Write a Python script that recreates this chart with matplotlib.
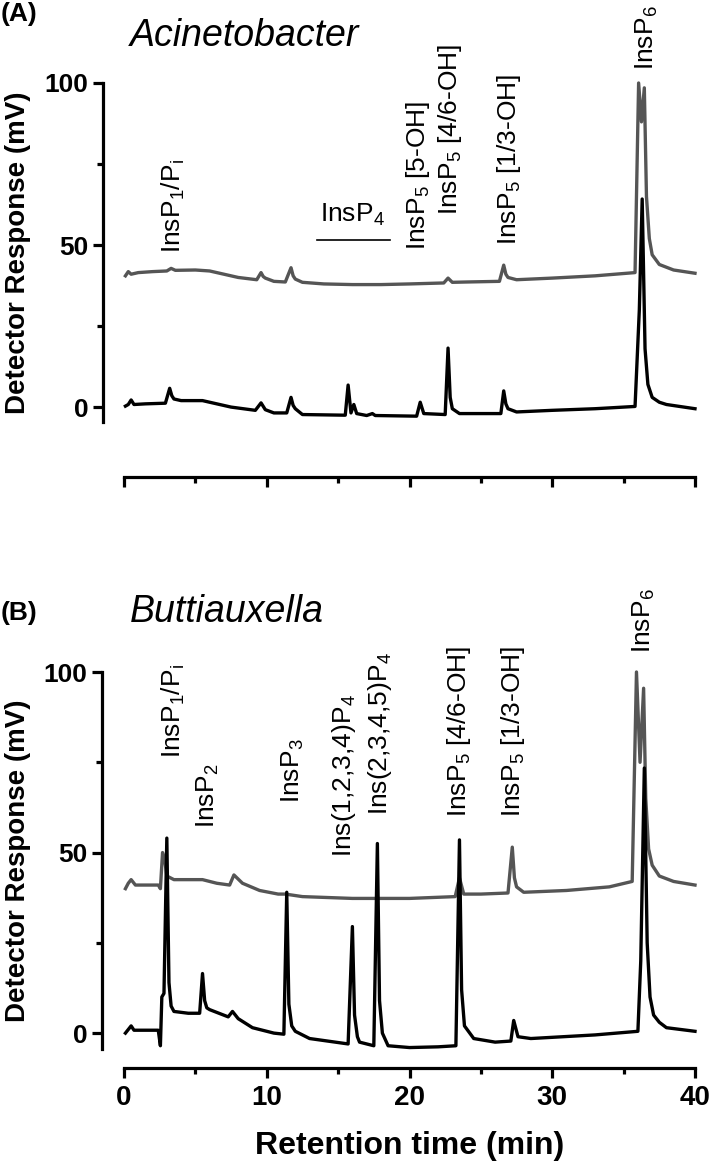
import matplotlib
matplotlib.use("Agg")
import matplotlib.pyplot as plt
from matplotlib.ticker import FixedLocator

plt.rcParams['font.family'] = ['Liberation Sans', 'DejaVu Sans']
plt.rcParams['mathtext.default'] = 'regular'

# ---------------- data (retention time in min, response in mV) ----------------
A_gray_t = [0.1, 0.3, 0.5, 1.0, 2.0, 3.0, 3.3, 3.6, 5.0, 6.0, 7.0, 8.0, 9.3, 9.6, 9.75, 9.9,
            10.5, 11.3, 11.7, 11.85, 12.0, 12.5, 14.0, 16.0, 18.0, 20.0, 22.4, 22.7, 23.0, 24.0,
            26.3, 26.6, 26.75, 26.9, 27.5, 30.0, 33.0, 35.8, 36.05, 36.25, 36.45, 36.6, 36.8,
            37.0, 37.5, 38.5, 40.0]
A_gray_mv = [40.5, 41.8, 41.0, 41.5, 41.8, 42.0, 42.8, 42.2, 42.3, 42.0, 41.0, 40.0, 39.3,
             41.5, 40.3, 39.8, 38.8, 38.6, 43.0, 40.5, 39.5, 38.5, 38.0, 37.8, 37.8, 38.0, 38.3,
             39.8, 38.5, 38.6, 38.8, 43.8, 41.0, 40.0, 39.3, 39.8, 40.5, 41.5, 100.0, 88.0,
             98.5, 65.0, 52.0, 47.0, 44.0, 42.3, 41.3]

A_black_t = [0.1, 0.3, 0.5, 0.7, 1.5, 2.9, 3.2, 3.35, 3.5, 4.0, 5.5, 6.5, 7.5, 9.2, 9.6, 9.9,
             10.5, 11.4, 11.7, 11.85, 12.0, 12.5, 15.5, 15.7, 15.9, 16.1, 16.3, 17.0, 17.4, 17.6,
             20.5, 20.75, 21.0, 22.5, 22.7, 22.85, 23.0, 23.5, 26.4, 26.6, 26.75, 26.9, 27.5,
             30.0, 33.0, 35.8, 36.1, 36.3, 36.5, 36.7, 37.0, 37.5, 38.0, 40.0]
A_black_mv = [0.3, 0.8, 2.2, 0.8, 1.0, 1.2, 5.8, 3.5, 2.5, 2.0, 2.0, 1.0, 0.0, -1.0, 1.3, -0.8,
              -1.8, -1.8, 3.0, 0.5, -0.5, -2.3, -2.5, 6.8, -1.8, 0.8, -2.0, -2.6, -2.0, -2.6,
              -2.8, 1.5, -2.0, -2.3, 18.2, 3.0, -0.5, -2.0, -2.0, 5.0, 1.0, -0.5, -1.5,
              -1.0, -0.5, 0.2, 30.0, 64.2, 18.0, 7.0, 3.0, 1.5, 0.8, -0.5]

B_gray_t = [0.1, 0.3, 0.5, 0.8, 2.4, 2.55, 2.7, 2.85, 3.0, 3.5, 5.5, 6.5, 7.4, 7.7, 8.3,
            9.5, 10.8, 11.3, 12.5, 16.0, 20.0, 23.2, 23.5, 23.8, 25.0, 26.9, 27.2, 27.35, 27.5,
            28.0, 31.0, 34.0, 35.6, 35.9, 36.15, 36.4, 36.55, 36.75, 37.0, 37.5, 38.5, 40.0]
B_gray_mv = [40.0, 41.5, 42.5, 41.0, 41.0, 40.0, 50.0, 48.0, 43.5, 42.5, 42.5, 41.5, 41.0,
             43.8, 41.5, 39.5, 38.5, 38.5, 37.8, 37.3, 37.3, 37.8, 43.0, 38.5, 38.5, 38.8,
             51.5, 43.0, 40.5, 39.0, 39.5, 40.5, 42.0, 100.0, 75.0, 95.5, 65.0, 51.0, 46.5,
             43.5, 42.0, 41.0]

B_black_t = [0.1, 0.3, 0.5, 0.7, 2.4, 2.55, 2.65, 2.8, 3.0, 3.15, 3.3, 3.5, 4.5, 5.3, 5.5,
             5.65, 5.8, 6.0, 7.3, 7.6, 8.0, 9.0, 10.5, 11.2, 11.4, 11.55, 11.75, 12.0, 13.0,
             15.7, 16.0, 16.15, 16.35, 16.5, 17.5, 17.75, 17.9, 18.1, 18.5, 20.0, 22.0, 23.25,
             23.5, 23.65, 23.85, 24.5, 26.0, 27.1, 27.3, 27.6, 28.5, 33.0, 36.0, 36.2, 36.45,
             36.65, 36.85, 37.1, 37.5, 38.0, 40.0]
B_black_mv = [0.0, 1.0, 2.0, 0.8, 0.8, -3.5, 10.0, 11.0, 54.0, 14.0, 7.5, 6.0, 5.5, 5.5, 16.5,
              9.0, 7.0, 6.5, 4.5, 6.0, 4.0, 1.5, 0.0, -0.3, 39.0, 8.0, 2.0, 0.5, -1.5,
              -3.0, 29.5, 5.0, -1.0, -2.5, -3.5, 52.5, 9.0, 0.0, -3.5, -4.0, -3.8, -3.5,
              53.5, 12.0, 2.0, -1.5, -2.5, -2.2, 3.5, -1.0, -1.5, -0.5, 0.5, 20.0, 73.4,
              25.0, 10.0, 5.0, 3.0, 1.5, 0.5]

# peak labels: (text, time, response at text bottom)
A_labels = [r'InsP$_1$/P$_i$', r'InsP$_5$ [5-OH]', r'InsP$_5$ [4/6-OH]',
            r'InsP$_5$ [1/3-OH]', r'InsP$_6$']
A_label_t = [3.45, 20.6, 22.85, 26.95, 36.6]
A_label_mv = [47.5, 48.5, 59.3, 50.0, 104.0]

B_labels = [r'InsP$_1$/P$_i$', r'InsP$_2$', r'InsP$_3$', r'Ins(1,2,3,4)P$_4$',
            r'Ins(2,3,4,5)P$_4$', r'InsP$_5$ [4/6-OH]', r'InsP$_5$ [1/3-OH]', r'InsP$_6$']
B_label_t = [3.45, 5.85, 11.85, 15.4, 17.9, 23.45, 27.25, 36.4]
B_label_mv = [76.2, 56.8, 63.7, 48.8, 60.4, 59.8, 59.8, 105.3]

xticks_major = [0, 10, 20, 30, 40]
xticks_minor = [5, 15, 25, 35]
yticks_major = [0, 50, 100]
yticks_minor = [25, 75]

GRAY = '#555555'
W, H = 709, 1165

fig = plt.figure(figsize=(W / 100, H / 100), dpi=100)


def make_axes(top_px, bottom_px, ymin, left_out_px, bottom_out_px):
    ax = fig.add_axes([124 / W, (H - bottom_px) / H, (695 - 124) / W, (bottom_px - top_px) / H])
    ax.set_xlim(0, 40)
    ax.set_ylim(ymin, 100)
    ax.spines['top'].set_visible(False)
    ax.spines['right'].set_visible(False)
    for s in ('left', 'bottom'):
        ax.spines[s].set_linewidth(2.3)
    ax.spines['left'].set_position(('outward', left_out_px * 0.72))
    ax.spines['bottom'].set_position(('outward', bottom_out_px * 0.72))
    ax.xaxis.set_major_locator(FixedLocator(xticks_major))
    ax.xaxis.set_minor_locator(FixedLocator(xticks_minor))
    ax.yaxis.set_major_locator(FixedLocator(yticks_major))
    ax.yaxis.set_minor_locator(FixedLocator(yticks_minor))
    ax.tick_params(axis='both', which='major', width=2.3, length=7.5, direction='out')
    ax.tick_params(axis='both', which='minor', width=2.3, length=4.5, direction='out')
    ax.tick_params(axis='y', which='major', labelsize=19, pad=3)
    ax.tick_params(axis='x', which='major', labelsize=20, pad=5)
    for lab in ax.get_xticklabels() + ax.get_yticklabels():
        lab.set_fontweight('bold')
    ax.patch.set_alpha(0)
    return ax


axA = make_axes(83, 422, -4.6, 21, 55)
axB = make_axes(672, 1049, -4.4, 22, 19)
axA.tick_params(axis='x', labelbottom=False)

axA.plot(A_gray_t, A_gray_mv, color=GRAY, lw=2.4, clip_on=False, solid_joinstyle='round')
axA.plot(A_black_t, A_black_mv, color='black', lw=2.4, clip_on=False, solid_joinstyle='round')
axB.plot(B_gray_t, B_gray_mv, color=GRAY, lw=2.4, clip_on=False, solid_joinstyle='round')
axB.plot(B_black_t, B_black_mv, color='black', lw=2.4, clip_on=False, solid_joinstyle='round')

for txt, t, v in zip(A_labels, A_label_t, A_label_mv):
    axA.text(t, v, txt, rotation=90, ha='center', va='bottom', fontsize=19, clip_on=False)
for txt, t, v in zip(B_labels, B_label_t, B_label_mv):
    axB.text(t, v, txt, rotation=90, ha='center', va='bottom', fontsize=19, clip_on=False)

# InsP4 bracket in panel A
axA.text(16.0, 59.3, r'InsP$_4$', ha='center', va='center', fontsize=19)
axA.plot([13.5, 18.6], [51.5, 51.5], color='black', lw=1.2, clip_on=False)

for ax in (axA, axB):
    ax.set_ylabel('Detector Response (mV)', fontsize=20, fontweight='bold')
    ax.yaxis.set_label_coords((31 - 124) / 571, 0.5)
axB.set_xlabel('Retention time (min)', fontsize=23, fontweight='bold', labelpad=14)

fig.text(1 / W, 1 - 14 / H, '(A)', fontsize=19, fontweight='bold', va='center', ha='left')
fig.text(1 / W, 1 - 613 / H, '(B)', fontsize=19, fontweight='bold', va='center', ha='left')
fig.text(130 / W, 1 - 36 / H, 'Acinetobacter', fontsize=27, style='italic', va='center', ha='left')
fig.text(130 / W, 1 - 612 / H, 'Buttiauxella', fontsize=27, style='italic', va='center', ha='left')

fig.savefig('out.png', dpi=100)
